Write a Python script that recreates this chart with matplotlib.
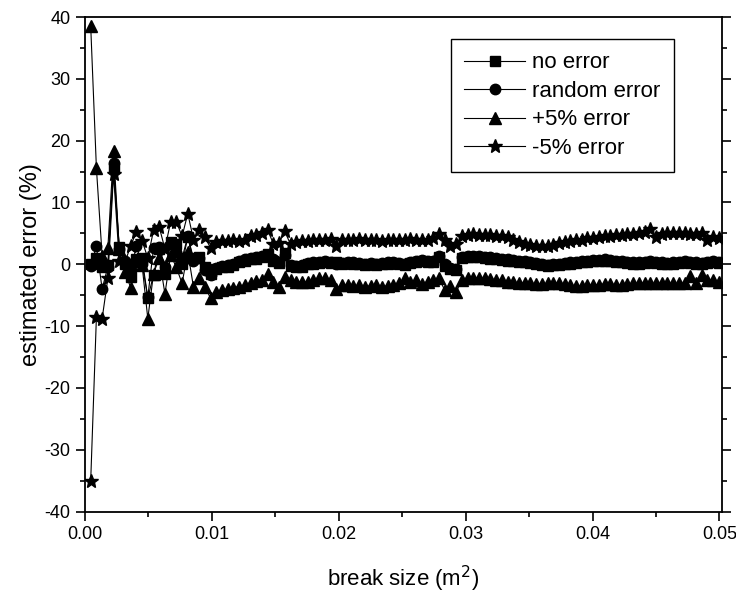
import numpy as np
import matplotlib
matplotlib.use("Agg")
import matplotlib.pyplot as plt
from matplotlib.ticker import MultipleLocator, FormatStrFormatter

plt.rcParams['font.family'] = ['Liberation Sans', 'DejaVu Sans']
plt.rcParams['axes.unicode_minus'] = False

# break size grid (m^2)
step = 0.00045
x = step * np.arange(1, 112)

no_error = [
    0.0, 1.0, -0.5, -0.2, 15.5, 2.8, 0.0, -2.0, 0.8, 1.0,
    -5.5, -1.7, 2.5, -1.5, 3.6, 3.3, 0.0, 4.4, 1.0, 1.2,
    -0.5, -1.5, -0.8, -0.5, -0.4, -0.2, 0.3, 0.6, 0.8, 0.9,
    1.1, 1.6, 0.6, 0.2, 1.8, -0.3, -0.5, -0.4, 0.0, 0.1,
    0.2, 0.3, 0.2, 0.3, 0.0, 0.2, 0.1, 0.0, -0.1, 0.0,
    -0.2, 0.0, 0.1, 0.2, 0.0, -0.1, 0.2, 0.4, 0.5, 0.3,
    0.4, 1.2, -0.3, -0.8, -1.0, 1.0, 1.2, 1.2, 1.1, 1.0,
    0.9, 0.8, 0.7, 0.6, 0.5, 0.4, 0.3, 0.2, 0.0, -0.2,
    -0.3, -0.2, -0.1, 0.0, 0.1, 0.2, 0.3, 0.4, 0.5, 0.5,
    0.6, 0.5, 0.4, 0.3, 0.2, 0.1, 0.1, 0.2, 0.3, 0.2,
    0.1, 0.0, 0.1, 0.2, 0.3, 0.2, 0.1, 0.0, 0.2, 0.3,
    0.2,
]

random_error = [
    -0.3, 2.9, -4.0, -0.4, 16.3, 2.5, 0.5, -1.0, 2.9, 0.0,
    -5.3, 2.6, 2.8, -0.5, 3.3, 2.0, 1.0, 4.5, 0.5, 1.0,
    -1.0, -1.8, -0.6, -0.3, -0.2, 0.0, 0.5, 0.8, 1.0, 1.1,
    1.3, 1.4, 0.8, 0.4, 1.5, -0.1, -0.3, -0.2, 0.2, 0.3,
    0.4, 0.5, 0.4, 0.1, 0.2, 0.4, 0.3, 0.2, 0.1, 0.2,
    0.0, 0.2, 0.3, 0.4, 0.2, 0.1, 0.4, 0.6, 0.7, 0.5,
    0.6, 1.3, 0.0, -0.6, -0.8, 1.2, 1.4, 1.4, 1.3, 1.2,
    1.1, 1.0, 0.9, 0.8, 0.7, 0.6, 0.5, 0.4, 0.2, 0.0,
    -0.1, 0.0, 0.1, 0.2, 0.3, 0.4, 0.5, 0.6, 0.7, 0.7,
    0.8, 0.7, 0.6, 0.5, 0.4, 0.3, 0.3, 0.4, 0.5, 0.4,
    0.3, 0.2, 0.3, 0.4, 0.5, 0.4, 0.3, 0.2, 0.4, 0.5,
    0.4,
]

plus5_error = [
    38.5, 15.5, 1.4, 2.6, 18.3, 2.5, -1.2, -3.8, 0.5, -0.2,
    -8.8, -1.5, 1.0, -4.8, 1.5, -0.5, -3.1, 2.0, -3.7, -2.3,
    -3.7, -5.5, -4.5, -4.2, -4.0, -3.8, -3.6, -3.3, -3.0, -2.7,
    -2.6, -1.5, -2.8, -3.7, -2.0, -2.5, -2.9, -2.8, -2.9, -2.6,
    -2.3, -2.3, -2.5, -4.0, -3.3, -3.4, -3.5, -3.4, -3.6, -3.5,
    -3.4, -3.6, -3.5, -3.3, -3.0, -2.3, -2.8, -2.6, -3.2, -2.8,
    -2.5, -2.3, -4.2, -3.5, -4.5, -2.5, -2.3, -2.2, -2.2, -2.3,
    -2.4, -2.5, -2.6, -2.8, -2.9, -3.0, -3.0, -3.1, -3.2, -3.2,
    -3.1, -3.0, -3.0, -3.2, -3.4, -3.5, -3.5, -3.4, -3.3, -3.3,
    -3.2, -3.2, -3.3, -3.3, -3.2, -3.1, -3.0, -3.0, -3.1, -3.1,
    -3.0, -3.0, -3.1, -3.1, -3.0, -1.9, -3.0, -1.8, -2.6, -2.5,
    -2.8,
]

minus5_error = [
    -35.0, -8.5, -8.8, -2.3, 14.6, 0.5, 0.3, 3.0, 5.2, 3.8,
    1.0, 5.5, 6.0, 2.5, 6.9, 6.9, 4.5, 8.2, 4.0, 5.6,
    4.4, 2.6, 3.6, 3.8, 3.8, 3.9, 3.8, 4.0, 4.5, 4.8,
    5.0, 5.5, 3.3, 3.5, 5.3, 3.2, 3.6, 3.8, 3.8, 3.9,
    4.0, 4.0, 4.1, 3.0, 4.0, 4.0, 3.9, 4.1, 3.9, 4.0,
    4.0, 3.8, 3.9, 4.0, 3.9, 4.0, 4.1, 4.0, 3.9, 4.0,
    4.2, 4.9, 4.0, 3.0, 3.2, 4.6, 4.8, 4.9, 4.8, 4.7,
    4.7, 4.6, 4.6, 4.4, 4.0, 3.6, 3.3, 3.1, 3.0, 3.0,
    2.9, 3.1, 3.4, 3.6, 3.7, 3.9, 4.0, 4.2, 4.3, 4.4,
    4.5, 4.6, 4.7, 4.8, 4.9, 4.9, 5.0, 5.2, 5.7, 4.4,
    4.9, 5.0, 5.1, 5.0, 5.0, 4.9, 4.9, 5.0, 4.0, 4.4,
    4.3,
]

labels = ['no error', 'random error', '+5% error', '-5% error']
markers = ['s', 'o', '^', '*']
msizes = [7, 7.5, 8, 10]
series = [no_error, random_error, plus5_error, minus5_error]

fig = plt.figure(figsize=(7.36, 5.95), dpi=100)
L, R, T, B = 85, 722, 17, 511.5
ax = fig.add_axes([L/736, 1 - B/595, (R-L)/736, (B-T)/595])

for y, lab, m, ms in zip(series, labels, markers, msizes):
    ax.plot(x, y, color='black', lw=0.8, marker=m, ms=ms,
            markerfacecolor='black', markeredgecolor='black', label=lab)

ax.set_xlim(0, 0.0502)
ax.set_ylim(-40, 40)
ax.xaxis.set_major_locator(MultipleLocator(0.01))
ax.xaxis.set_minor_locator(MultipleLocator(0.005))
ax.xaxis.set_major_formatter(FormatStrFormatter('%.2f'))
ax.yaxis.set_major_locator(MultipleLocator(10))
ax.yaxis.set_minor_locator(MultipleLocator(5))

ax.tick_params(which='both', direction='out', width=1.2, labelsize=13,
               left=True, bottom=True, right=True, top=False)
ax.tick_params(which='major', length=6.5, pad=4)
ax.tick_params(which='minor', length=3.5)
for s in ax.spines.values():
    s.set_linewidth(1.3)

ax.set_xlabel('break size (m$^2$)', fontsize=16, labelpad=15)
ax.set_ylabel('estimated error (%)', fontsize=17, labelpad=2)

leg = ax.legend(loc='upper left', bbox_to_anchor=((451-L)/(R-L), (B-39)/(B-T)),
                borderaxespad=0, fontsize=16, handlelength=2.75,
                handletextpad=0.3, labelspacing=0.34, borderpad=0.6,
                fancybox=False, framealpha=1, edgecolor='black')
leg.get_frame().set_linewidth(1.0)

fig.savefig('out.png', dpi=100)
